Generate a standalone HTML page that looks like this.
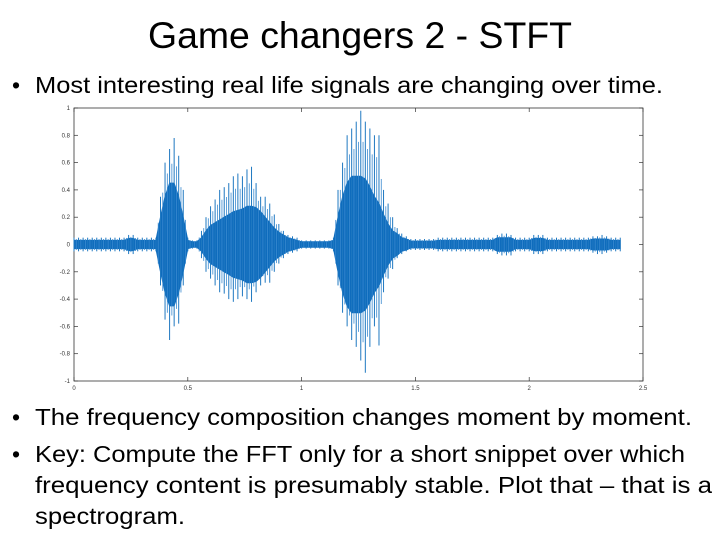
<!DOCTYPE html>
<html><head><meta charset="utf-8"><style>
html,body{margin:0;padding:0;background:#fff;}
svg{display:block;font-family:"Liberation Sans",sans-serif;}
</style></head><body>
<svg id="slide" width="720" height="540" viewBox="0 0 720 540" xmlns="http://www.w3.org/2000/svg">
<text x="148" y="48" font-size="37" fill="#000" textLength="424" lengthAdjust="spacingAndGlyphs">Game changers 2 - STFT</text>
<text x="12" y="93" font-size="23" fill="#000">•</text>
<text x="35" y="93" font-size="23" textLength="628" lengthAdjust="spacingAndGlyphs">Most interesting real life signals are changing over time.</text>
<g id="chart"></g>
<text x="12" y="425" font-size="23">•</text>
<text x="35" y="425" font-size="23" textLength="657" lengthAdjust="spacingAndGlyphs">The frequency composition changes moment by moment.</text>
<text x="12" y="462" font-size="23">•</text>
<text x="35" y="462" font-size="23" textLength="650" lengthAdjust="spacingAndGlyphs">Key: Compute the FFT only for a short snippet over which</text>
<text x="35" y="493" font-size="23" textLength="677" lengthAdjust="spacingAndGlyphs">frequency content is presumably stable. Plot that – that is a</text>
<text x="35" y="524" font-size="23" textLength="150" lengthAdjust="spacingAndGlyphs">spectrogram.</text>
</svg>
<script>
const dt = 0.02;
const peakUp = [.05,.05,.05,.05,.05,.05,.05,.05,.05,.05,.05,.05,.07,.07,.05,.05,.05,.05,.05,
.35,.6,.7,.78,.65,.4,.05,.03,.03,.1,.2,.28,.33,.4,.42,.45,.5,.52,.5,.55,.57,.45,.35,.35,.3,.22,.15,.1,.07,.06,.05,
.03,.03,.03,.03,.03,.03,.03,.05,.4,.6,.8,.85,.9,.98,.9,.85,.8,.8,.4,.3,.2,.12,.08,.06,
.04,.04,.04,.04,.04,.04,.05,.05,.05,.05,.05,.05,.05,.05,.05,.05,.05,.05,.05,.07,.08,.08,.07,.05,.05,.05,.05,.07,.07,.07,.05,.05,.05,.05,.05,.05,.05,.05,.05,.05,.06,.06,.07,.06,.05,.05,.05];
const peakDn = [-.05,-.05,-.05,-.05,-.05,-.05,-.05,-.05,-.05,-.05,-.05,-.05,-.07,-.07,-.05,-.05,-.05,-.05,-.05,
-.3,-.55,-.7,-.6,-.58,-.3,-.05,-.03,-.03,-.1,-.2,-.25,-.3,-.35,-.36,-.4,-.42,-.4,-.38,-.4,-.42,-.35,-.3,-.28,-.28,-.2,-.14,-.1,-.07,-.06,-.05,
-.03,-.03,-.03,-.03,-.03,-.03,-.03,-.05,-.3,-.5,-.6,-.7,-.75,-.85,-.94,-.75,-.6,-.74,-.35,-.25,-.18,-.1,-.07,-.05,
-.04,-.04,-.04,-.04,-.04,-.04,-.05,-.05,-.05,-.05,-.05,-.05,-.05,-.05,-.05,-.05,-.05,-.05,-.05,-.07,-.08,-.08,-.08,-.05,-.05,-.05,-.05,-.07,-.07,-.07,-.05,-.05,-.05,-.05,-.05,-.05,-.05,-.05,-.05,-.05,-.06,-.07,-.07,-.06,-.05,-.05,-.05];
const core = [.03,.03,.03,.03,.03,.03,.03,.03,.03,.03,.03,.03,.045,.045,.03,.03,.03,.03,.03,
.2,.35,.45,.45,.35,.2,.03,.02,.02,.05,.1,.14,.16,.18,.2,.22,.24,.25,.26,.28,.28,.27,.24,.2,.16,.12,.09,.07,.05,.04,.03,
.02,.02,.02,.02,.02,.02,.02,.03,.2,.35,.45,.5,.5,.5,.48,.42,.35,.3,.22,.15,.1,.08,.05,.04,
.025,.025,.025,.025,.025,.025,.03,.03,.03,.03,.03,.03,.03,.03,.03,.03,.03,.03,.03,.05,.05,.05,.05,.03,.03,.03,.03,.045,.045,.045,.03,.03,.03,.03,.03,.03,.03,.03,.03,.03,.04,.04,.04,.04,.03,.03,.03];
const xTicks = [0,0.5,1,1.5,2,2.5];
const xTickLabels = ["0","0.5","1","1.5","2","2.5"];
const yTicks = [1,0.8,0.6,0.4,0.2,0,-0.2,-0.4,-0.6,-0.8,-1];
const yTickLabels = ["1","0.8","0.6","0.4","0.2","0","-0.2","-0.4","-0.6","-0.8","-1"];

const NS="http://www.w3.org/2000/svg";
const L=74,R=643,T=108,B=381;
const xs=t=>L+(t/2.5)*(R-L);
const ys=v=>T+(1-v)/2*(B-T);
const g=document.getElementById('chart');
function mk(tag,attrs){const e=document.createElementNS(NS,tag);for(const k in attrs)e.setAttribute(k,attrs[k]);g.appendChild(e);return e;}

const frame=mk('rect',{x:L,y:T,width:R-L,height:B-T,fill:'#fff',stroke:'#333','stroke-width':0.8});



xTicks.forEach((t,i)=>{
  const x=xs(t);
  const tk=mk('line',{x1:x,x2:x,y1:B,y2:B-4,stroke:'#333','stroke-width':0.7});
  
  
  const tk2=mk('line',{x1:x,x2:x,y1:T,y2:T+4,stroke:'#333','stroke-width':0.7});
  
  
  const lb=mk('text',{x:x,y:B+9,'font-size':6,'text-anchor':'middle',fill:'#333'});
  lb.textContent=xTickLabels[i];
  
  
});
yTicks.forEach((v,i)=>{
  const y=ys(v);
  const tk=mk('line',{x1:L,x2:L+4,y1:y,y2:y,stroke:'#333','stroke-width':0.7});
  
  
  const tk2=mk('line',{x1:R-4,x2:R,y1:y,y2:y,stroke:'#333','stroke-width':0.7});
  
  
  const lb=mk('text',{x:L-4,y:y+2,'font-size':6,'text-anchor':'end',fill:'#333'});
  lb.textContent=yTickLabels[i];
  
  
});

// core envelope polygon
let up=[],dn=[];
core.forEach((c,i)=>{const t=i*dt;up.push(xs(t).toFixed(1)+','+ys(c).toFixed(1));dn.unshift(xs(t).toFixed(1)+','+ys(-c).toFixed(1));});
const poly=mk('polygon',{points:up.concat(dn).join(' '),fill:'#0f6cbd',stroke:'#0f6cbd','stroke-width':1});



// peak spikes
peakUp.forEach((p,i)=>{
  const t=i*dt;
  const a=mk('line',{x1:xs(t),x2:xs(t),y1:ys(p),y2:ys(peakDn[i]),stroke:'#1f78c1','stroke-width':1});
  
  
  if(i<peakUp.length-1){
    const tm=t+dt/2;
    const pm=(p+peakUp[i+1])/2*0.8, dm=(peakDn[i]+peakDn[i+1])/2*0.8;
    const b=mk('line',{x1:xs(tm),x2:xs(tm),y1:ys(pm),y2:ys(dm),stroke:'#3a8ad0','stroke-width':0.8});
    
    
  }
});
</script>
</body></html>
